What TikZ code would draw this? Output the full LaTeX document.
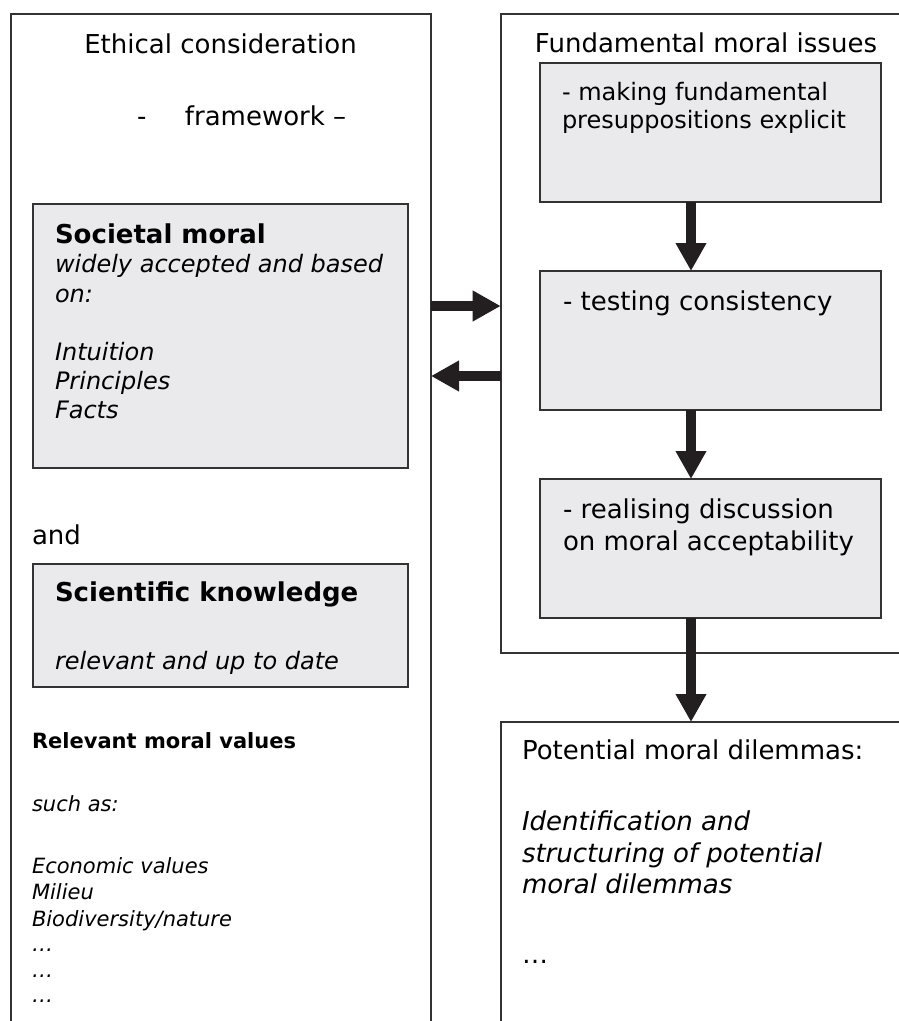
\documentclass[tikz,border=0pt]{standalone}
\usepackage{fontspec}
\setmainfont{DejaVu Sans}
\usetikzlibrary{arrows.meta}
\definecolor{boxgrey}{HTML}{EAEAEC}
\definecolor{edgec}{HTML}{333333}
\definecolor{arrowc}{HTML}{231F20}
\tikzset{
  frame/.style={draw=edgec, line width=2pt, fill=white, inner sep=0pt, outer sep=0pt, anchor=north west},
  greybox/.style={draw=edgec, line width=2pt, fill=boxgrey, inner sep=0pt, outer sep=0pt, anchor=north west},
  bigarrow/.style={draw=arrowc, line width=10pt, -{Triangle[length=28pt,width=29pt]}},
  txt/.style={anchor=base west, inner sep=0pt, outer sep=0pt},
  ctxt/.style={anchor=base, inner sep=0pt, outer sep=0pt},
  big/.style={font=\fontsize{26}{32}\selectfont},
  bigb/.style={font=\fontsize{26}{32}\selectfont\bfseries},
  bigi/.style={font=\fontsize{26}{32}\selectfont\itshape},
  mid/.style={font=\fontsize{24}{29}\selectfont},
  midi/.style={font=\fontsize{24}{29}\selectfont\itshape},
  small/.style={font=\fontsize{21}{26}\selectfont},
  smallb/.style={font=\fontsize{21}{26}\selectfont\bfseries},
  smalli/.style={font=\fontsize{21}{26}\selectfont\itshape}
}
\begin{document}
\begin{tikzpicture}[x=1pt,y=-1pt]
\useasboundingbox (0,0) rectangle (899,1021);
\clip (0,0) rectangle (899,1021);
\fill[white] (0,0) rectangle (899,1021);

% containers
\node[frame, minimum width=420pt, minimum height=1040pt] (L) at (11,14) {};
\node[frame, minimum width=420pt, minimum height=639pt] (R) at (500.7,14) {};
\node[frame, minimum width=420pt, minimum height=330pt] (P) at (500.7,722) {};

% grey boxes
\node[greybox, minimum width=375pt, minimum height=264pt] (S) at (33,204) {};
\node[greybox, minimum width=375pt, minimum height=123pt] (K) at (33,564) {};
\node[greybox, minimum width=341pt, minimum height=139pt] (b1) at (540,63) {};
\node[greybox, minimum width=341pt, minimum height=139pt] (b2) at (540,271) {};
\node[greybox, minimum width=341pt, minimum height=139pt] (b3) at (540,479) {};

% left column texts
\node[ctxt, big] (t1) at (220.5,53) {Ethical consideration};
\node[txt, big] (t2) at (137,125) {-\hspace{38.6pt}framework –};
\node[txt, bigb] (s1) at (55,243) {Societal moral};
\node[txt, midi] (s2) at (55,272) {widely accepted and based};
\node[txt, midi] (s3) at (55,302) {on:};
\node[txt, midi] (s4) at (55,360) {Intuition};
\node[txt, midi] (s5) at (55,389) {Principles};
\node[txt, midi] (s6) at (55,418) {Facts};
\node[txt, big] (and) at (32,544) {and};
\node[txt, bigb] (k1) at (55,601) {Scientific knowledge};
\node[txt, midi] (k2) at (55,669) {relevant and up to date};
\node[txt, smallb] (v1) at (32,748) {Relevant moral values};
\node[txt, smalli] (v2) at (32,811) {such as:};
\node[txt, smalli] (v3) at (32,873) {Economic values};
\node[txt, smalli] (v4) at (32,899) {Milieu};
\node[txt, smalli] (v5) at (32,926) {Biodiversity/nature};
\node[txt, smalli] (v6) at (32,951) {…};
\node[txt, smalli] (v7) at (32,977) {…};
\node[txt, smalli] (v8) at (32,1002) {…};

% right column texts
\node[ctxt, big] (r1) at (706,52) {Fundamental moral issues};
\node[txt, mid] (a1) at (562,100) {- making fundamental};
\node[txt, mid] (a2) at (562,128) {presuppositions explicit};
\node[txt, big] (c1) at (563,310) {- testing consistency};
\node[txt, big] (d1) at (563,518) {- realising discussion};
\node[txt, big] (d2) at (563,550) {on moral acceptability};
\node[txt, big] (p1) at (522,759) {Potential moral dilemmas:};
\node[txt, bigi] (p2) at (522,830) {Identification and};
\node[txt, bigi] (p3) at (522,862) {structuring of potential};
\node[txt, bigi] (p4) at (522,893) {moral dilemmas};
\node[txt, big] (p5) at (522,963) {…};

% arrows
\coordinate (ax) at (691,0);
\coordinate (ay1) at (0,306);
\coordinate (ay2) at (0,376);
\draw[bigarrow] (b1.south -| ax) -- (b2.north -| ax);
\draw[bigarrow] (b2.south -| ax) -- (b3.north -| ax);
\draw[bigarrow] (b3.south -| ax) -- (P.north -| ax);
\draw[bigarrow] (L.east |- ay1) -- (R.west |- ay1);
\draw[bigarrow] (R.west |- ay2) -- (L.east |- ay2);
\end{tikzpicture}
\end{document}
